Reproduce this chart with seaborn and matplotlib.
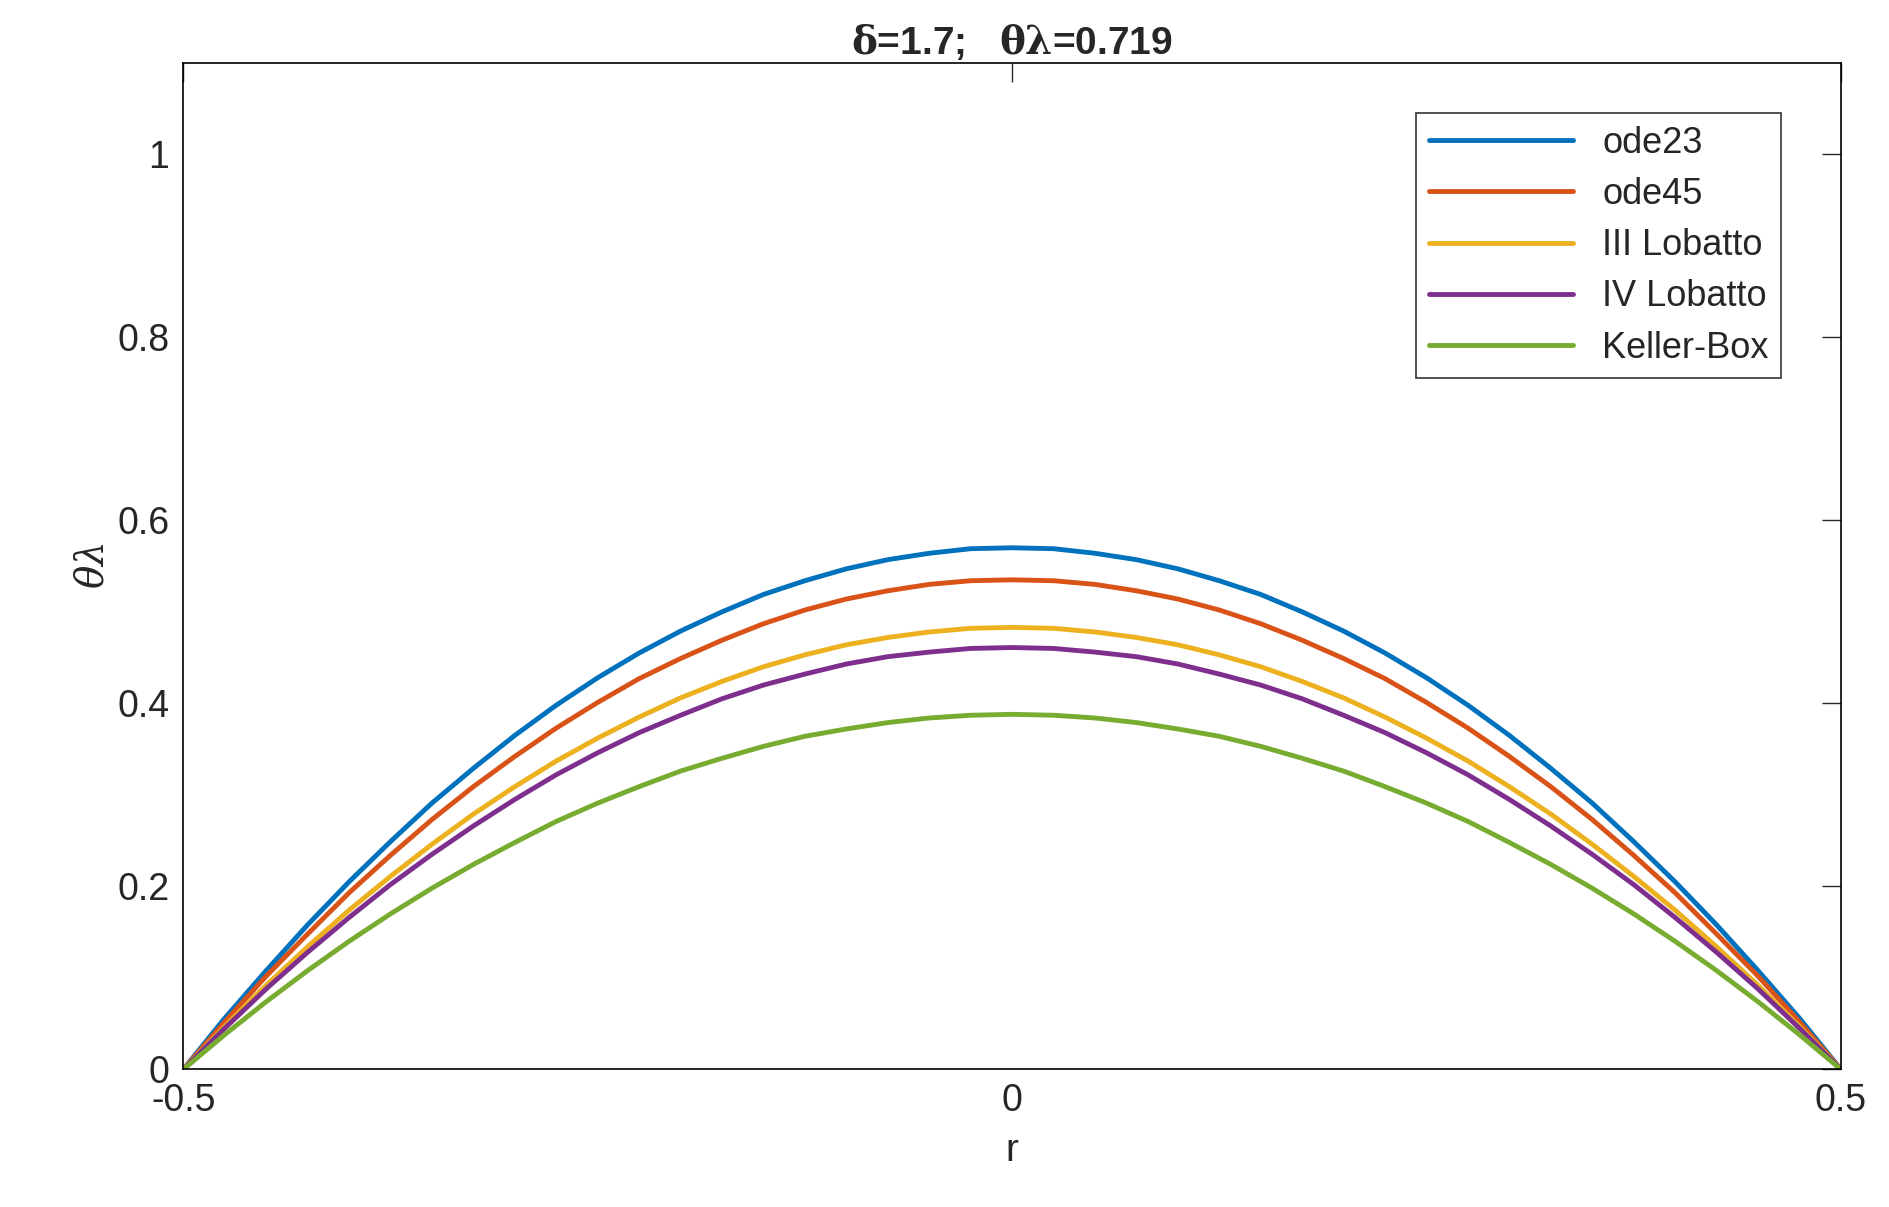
import numpy as np
import pandas as pd
import seaborn as sns
import matplotlib.pyplot as plt

# half profiles, r = 0 .. 0.5 (curves are symmetric)
r_half = [0.0, 0.025, 0.05, 0.075, 0.1, 0.125, 0.15, 0.175, 0.2, 0.225, 0.25,
          0.275, 0.3, 0.325, 0.35, 0.375, 0.4, 0.425, 0.45, 0.475, 0.5]
ode23 = [0.570, 0.569, 0.564, 0.557, 0.547, 0.534, 0.519, 0.500, 0.479, 0.455, 0.428,
         0.398, 0.365, 0.329, 0.291, 0.249, 0.205, 0.158, 0.108, 0.056, 0.0]
ode45 = [0.535, 0.534, 0.530, 0.523, 0.514, 0.502, 0.487, 0.469, 0.449, 0.427, 0.401,
         0.373, 0.342, 0.309, 0.273, 0.234, 0.193, 0.148, 0.102, 0.052, 0.0]
lobatto3 = [0.483, 0.482, 0.478, 0.472, 0.464, 0.453, 0.440, 0.424, 0.406, 0.385, 0.362,
            0.337, 0.309, 0.279, 0.246, 0.211, 0.174, 0.134, 0.092, 0.047, 0.0]
lobatto4 = [0.461, 0.460, 0.456, 0.451, 0.443, 0.432, 0.420, 0.405, 0.387, 0.368, 0.346,
            0.322, 0.295, 0.266, 0.235, 0.202, 0.166, 0.128, 0.088, 0.045, 0.0]
keller = [0.388, 0.387, 0.384, 0.379, 0.372, 0.364, 0.353, 0.340, 0.326, 0.309, 0.291,
          0.271, 0.248, 0.224, 0.198, 0.170, 0.140, 0.108, 0.074, 0.038, 0.0]

labels = ["ode23", "ode45", "III Lobatto", "IV Lobatto", "Keller-Box"]
colors = ["#0072BD", "#D95319", "#EDB120", "#7E2F8E", "#77AC30"]

rows = []
for lab, vals in zip(labels, [ode23, ode45, lobatto3, lobatto4, keller]):
    rr = [-x for x in r_half[::-1]] + r_half[1:]
    vv = vals[::-1] + vals[1:]
    for a, b in zip(rr, vv):
        rows.append((lab, a, b))
df = pd.DataFrame(rows, columns=["method", "r", "theta"])

sns.set_style("white")
plt.rcParams["font.family"] = ["Liberation Sans", "DejaVu Sans"]
plt.rcParams["mathtext.fontset"] = "dejavuserif"

fig = plt.figure(figsize=(18.9, 12.07), dpi=100)
ax = fig.add_axes([0.097, 0.114, 0.877, 0.834])
sns.lineplot(data=df, x="r", y="theta", hue="method", hue_order=labels,
             palette=colors, linewidth=3.5, ax=ax, sort=True)

ax.set_xlim(-0.5, 0.5)
ax.set_ylim(0, 1.1)
ax.set_xticks([-0.5, 0, 0.5])
ax.set_xticklabels(["-0.5", "0", "0.5"])
ax.set_yticks([0, 0.2, 0.4, 0.6, 0.8, 1])
ax.set_yticklabels(["0", "0.2", "0.4", "0.6", "0.8", "1"])
ax.tick_params(direction="in", length=14, width=1, labelsize=27,
               top=True, right=True, pad=10)
for s in ax.spines.values():
    s.set_linewidth(1.2)
    s.set_color("black")
ax.set_xlabel("r", fontsize=28, labelpad=10)
ax.set_ylabel(r"$\theta\lambda$", fontsize=28)
ax.set_title(r"$\mathbf{\delta}$=1.7;   $\mathbf{\theta\lambda}$=0.719",
             fontsize=28, fontweight="bold", pad=6)
leg = ax.legend(loc="upper right", bbox_to_anchor=(0.975, 0.968), fontsize=26,
                frameon=True, fancybox=False, edgecolor="black",
                handlelength=4.0, borderpad=0.35, labelspacing=0.45)
leg.get_frame().set_linewidth(1.2)
for line in leg.get_lines():
    line.set_linewidth(3.5)

fig.savefig("out.png", dpi=100)
